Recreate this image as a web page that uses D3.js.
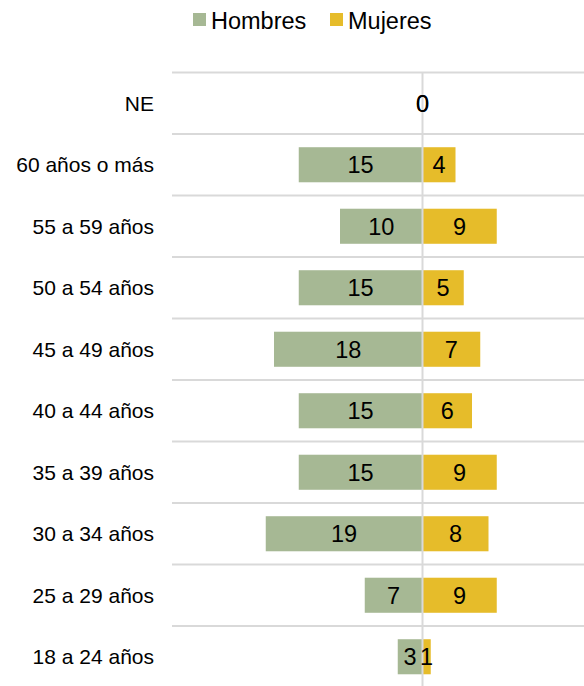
<!DOCTYPE html>
<html>
<head>
<meta charset="utf-8">
<script src="https://cdn.jsdelivr.net/npm/d3@7"></script>
<style>
  body { margin: 0; background: #fff; }
  svg { display: block; font-family: "Liberation Sans", Arial, sans-serif; }
</style>
</head>
<body>
<div id="root"></div>
<script>
const categories = ['NE', '60 años o más', '55 a 59 años', '50 a 54 años', '45 a 49 años',
                    '40 a 44 años', '35 a 39 años', '30 a 34 años', '25 a 29 años', '18 a 24 años'];
const hombres = [0, 15, 10, 15, 18, 15, 15, 19, 7, 3];
const mujeres = [0, 4, 9, 5, 7, 6, 9, 8, 9, 1];
const seriesNames = ['Hombres', 'Mujeres'];
const colors = ['#a6b894', '#e6bc2a'];

const w = 584;
const h = 686;
const center = 422.5;
const unit = 8.25;

const svg = d3.select('#root')
  .append('svg')
  .attr('width', w)
  .attr('height', h);

const x = d3.scaleLinear()
  .domain([-20, 20])
  .range([center - 20 * unit, center + 20 * unit]);

const y = d3.scaleBand()
  .domain(categories)
  .range([72.5, 72.5 + categories.length * 61.5])
  .paddingInner(0.43)
  .paddingOuter(0.215);

const rowStep = y.step();

// gridlines between rows
svg.selectAll('line.grid')
  .data(categories)
  .enter()
  .append('line')
  .attr('class', 'grid')
  .attr('x1', 172)
  .attr('x2', w)
  .attr('y1', (d, i) => 72.5 + i * rowStep)
  .attr('y2', (d, i) => 72.5 + i * rowStep)
  .attr('stroke', '#d9d9d9')
  .attr('stroke-width', 2);

// bars
svg.selectAll('rect.h')
  .data(hombres)
  .enter()
  .append('rect')
  .attr('class', 'h')
  .attr('x', d => x(-d))
  .attr('y', (d, i) => y(categories[i]))
  .attr('width', d => x(0) - x(-d))
  .attr('height', y.bandwidth())
  .attr('fill', colors[0]);

svg.selectAll('rect.m')
  .data(mujeres)
  .enter()
  .append('rect')
  .attr('class', 'm')
  .attr('x', x(0))
  .attr('y', (d, i) => y(categories[i]))
  .attr('width', d => x(d) - x(0))
  .attr('height', y.bandwidth())
  .attr('fill', colors[1]);

// center axis line
svg.append('line')
  .attr('x1', x(0))
  .attr('x2', x(0))
  .attr('y1', 72.5)
  .attr('y2', h)
  .attr('stroke', '#d9d9d9')
  .attr('stroke-width', 2);

// value labels
svg.selectAll('text.vh')
  .data(hombres)
  .enter()
  .append('text')
  .attr('class', 'vh')
  .text(d => d)
  .attr('x', d => d === 0 ? x(0) : (x(-d) + x(0)) / 2)
  .attr('y', (d, i) => y(categories[i]) + y.bandwidth() / 2)
  .attr('dy', '0.36em')
  .attr('text-anchor', 'middle')
  .attr('font-size', '23.5px')
  .attr('fill', '#000');

svg.selectAll('text.vm')
  .data(mujeres)
  .enter()
  .append('text')
  .attr('class', 'vm')
  .text(d => d)
  .attr('x', d => d === 0 ? x(0) : (x(d) + x(0)) / 2)
  .attr('y', (d, i) => y(categories[i]) + y.bandwidth() / 2)
  .attr('dy', '0.36em')
  .attr('text-anchor', 'middle')
  .attr('font-size', '23.5px')
  .attr('fill', '#000');

// category labels
svg.selectAll('text.cat')
  .data(categories)
  .enter()
  .append('text')
  .attr('class', 'cat')
  .text(d => d)
  .attr('x', 154)
  .attr('y', d => y(d) + y.bandwidth() / 2)
  .attr('dy', '0.36em')
  .attr('text-anchor', 'end')
  .attr('font-size', '21px')
  .attr('fill', '#000');

// legend
const legend = svg.append('g');
const legendX = [193, 330];
seriesNames.forEach((name, i) => {
  legend.append('rect')
    .attr('x', legendX[i])
    .attr('y', 13)
    .attr('width', 13)
    .attr('height', 13)
    .attr('fill', colors[i]);
  legend.append('text')
    .text(name)
    .attr('x', legendX[i] + 18)
    .attr('y', 28.5)
    .attr('font-size', '23.5px')
    .attr('fill', '#000');
});
</script>
</body>
</html>
